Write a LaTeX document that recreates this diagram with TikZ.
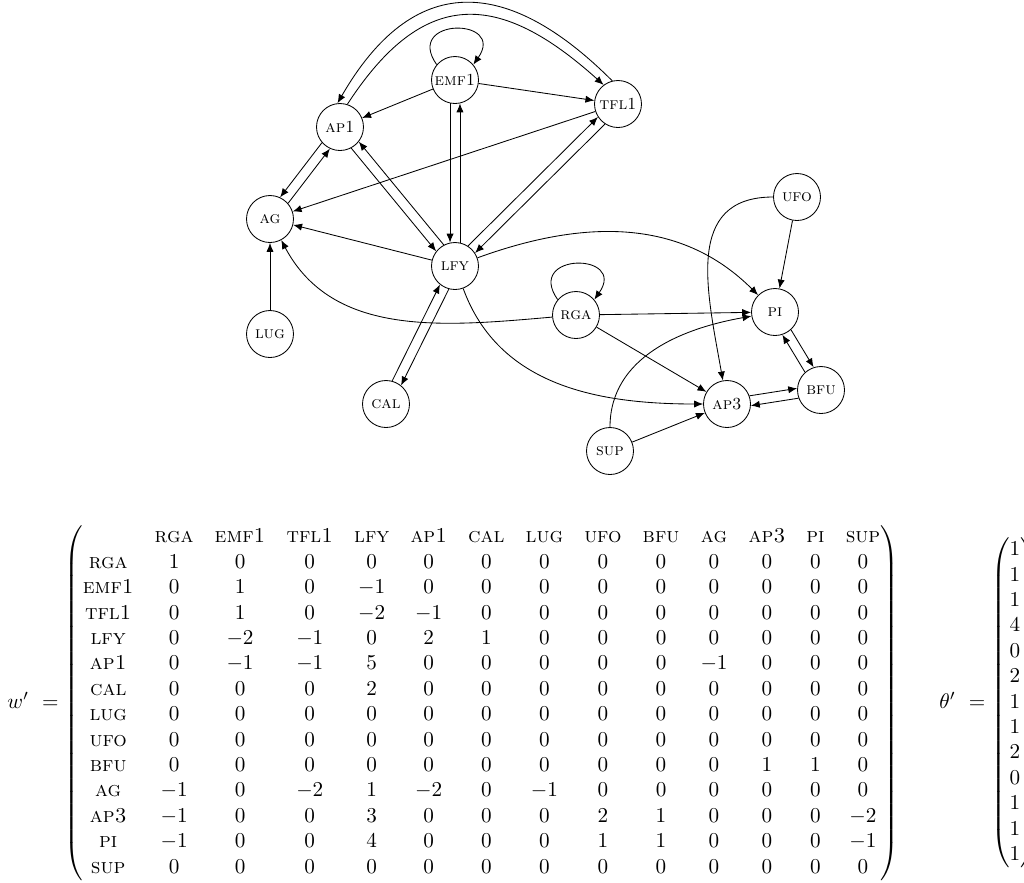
\documentclass[tikz,border=0pt]{standalone}
\usepackage{amsmath}
\usetikzlibrary{arrows.meta}
\setcounter{MaxMatrixCols}{14}

\begin{document}
\begin{tikzpicture}[x=0.4724pt,y=0.4724pt,
  gene/.style={circle,draw,minimum size=22.2pt,inner sep=0pt,font=\footnotesize},
  edge/.style={-{Latex[length=4.2pt,width=3.4pt]}}]
\useasboundingbox (0,0) rectangle (1024,-882);
\clip (0,0) rectangle (1024,-882);

\node[gene] (emf1) at (455,-80)  {\textsc{emf1}};
\node[gene] (tfl1) at (618,-104) {\textsc{tfl1}};
\node[gene] (ap1)  at (340,-127) {\textsc{ap1}};
\node[gene] (ag)   at (270,-219) {\textsc{ag}};
\node[gene] (lfy)  at (455,-266) {\textsc{lfy}};
\node[gene] (ufo)  at (797,-197) {\textsc{ufo}};
\node[gene] (rga)  at (576,-315) {\textsc{rga}};
\node[gene] (pi)   at (775,-312) {\textsc{pi}};
\node[gene] (lug)  at (270,-334) {\textsc{lug}};
\node[gene] (cal)  at (386,-404) {\textsc{cal}};
\node[gene] (ap3)  at (727,-404) {\textsc{ap3}};
\node[gene] (bfu)  at (821,-390) {\textsc{bfu}};
\node[gene] (sup)  at (610,-451) {\textsc{sup}};

\draw[edge] (emf1.140) .. controls +(125:58) and +(55:58) .. (emf1.40);
\draw[edge] (rga.140) .. controls +(125:58) and +(55:58) .. (rga.40);

\draw[edge] (emf1) -- (ap1);
\draw[edge] (emf1) -- (tfl1);
\draw[edge] (emf1.-102) -- (lfy.102);
\draw[edge] (lfy.78) -- (emf1.-78);
\draw[edge] (tfl1.104) to[out=135,in=60,looseness=1.4] (ap1.96);
\draw[edge] (ap1.72) to[out=57,in=138,looseness=1.4] (tfl1.127);
\draw[edge] (tfl1) -- (ag);
\draw[edge] (ap1.-139) -- (ag.65);
\draw[edge] (ag.41) -- (ap1.-115);
\draw[edge] (ap1.-62) -- (lfy.142);
\draw[edge] (lfy.118) -- (ap1.-38);
\draw[edge] (lfy.57) -- (tfl1.213);
\draw[edge] (tfl1.-123) -- (lfy.33);
\draw[edge] (lfy) -- (ag);
\draw[edge] (lug) -- (ag);
\draw[edge] (rga) to[out=185,in=-62] (ag);
\draw[edge] (lfy) to[out=20,in=135] (pi);
\draw[edge] (cal.75) -- (lfy.231);
\draw[edge] (lfy.-105) -- (cal.51);
\draw[edge] (lfy) to[out=-70,in=180] (ap3);
\draw[edge] (rga) -- (pi);
\draw[edge] (rga) -- (ap3);
\draw[edge] (ufo) -- (pi);
\draw[edge] (ufo) to[out=180,in=100,looseness=1.2] (ap3);
\draw[edge] (sup) to[out=90,in=190] (pi);
\draw[edge] (sup) -- (ap3);
\draw[edge] (pi.-48) -- (bfu.108);
\draw[edge] (bfu.132) -- (pi.-72);
\draw[edge] (ap3.20) -- (bfu.176);
\draw[edge] (bfu.200) -- (ap3.-4);

\node[anchor=west,inner sep=0pt] (wmat) at (7,-703) {$w' \ = \begin{pmatrix}
 & \textsc{rga} & \textsc{emf1} & \textsc{tfl1} & \textsc{lfy} & \textsc{ap1} & \textsc{cal} & \textsc{lug} & \textsc{ufo} & \textsc{bfu} & \textsc{ag} & \textsc{ap3} & \textsc{pi} & \textsc{sup}\\
\textsc{rga}  & 1 & 0 & 0 & 0 & 0 & 0 & 0 & 0 & 0 & 0 & 0 & 0 & 0\\
\textsc{emf1} & 0 & 1 & 0 & -1 & 0 & 0 & 0 & 0 & 0 & 0 & 0 & 0 & 0\\
\textsc{tfl1} & 0 & 1 & 0 & -2 & -1 & 0 & 0 & 0 & 0 & 0 & 0 & 0 & 0\\
\textsc{lfy}  & 0 & -2 & -1 & 0 & 2 & 1 & 0 & 0 & 0 & 0 & 0 & 0 & 0\\
\textsc{ap1}  & 0 & -1 & -1 & 5 & 0 & 0 & 0 & 0 & 0 & -1 & 0 & 0 & 0\\
\textsc{cal}  & 0 & 0 & 0 & 2 & 0 & 0 & 0 & 0 & 0 & 0 & 0 & 0 & 0\\
\textsc{lug}  & 0 & 0 & 0 & 0 & 0 & 0 & 0 & 0 & 0 & 0 & 0 & 0 & 0\\
\textsc{ufo}  & 0 & 0 & 0 & 0 & 0 & 0 & 0 & 0 & 0 & 0 & 0 & 0 & 0\\
\textsc{bfu}  & 0 & 0 & 0 & 0 & 0 & 0 & 0 & 0 & 0 & 0 & 1 & 1 & 0\\
\textsc{ag}   & -1 & 0 & -2 & 1 & -2 & 0 & -1 & 0 & 0 & 0 & 0 & 0 & 0\\
\textsc{ap3}  & -1 & 0 & 0 & 3 & 0 & 0 & 0 & 2 & 1 & 0 & 0 & 0 & -2\\
\textsc{pi}   & -1 & 0 & 0 & 4 & 0 & 0 & 0 & 1 & 1 & 0 & 0 & 0 & -1\\
\textsc{sup}  & 0 & 0 & 0 & 0 & 0 & 0 & 0 & 0 & 0 & 0 & 0 & 0 & 0
\end{pmatrix}$};

\node[anchor=west,inner sep=0pt] (theta) at (939,-703) {$\theta' \ = \begin{pmatrix}
1\\1\\1\\4\\0\\2\\1\\1\\2\\0\\1\\1\\1
\end{pmatrix}$};
\end{tikzpicture}
\end{document}
